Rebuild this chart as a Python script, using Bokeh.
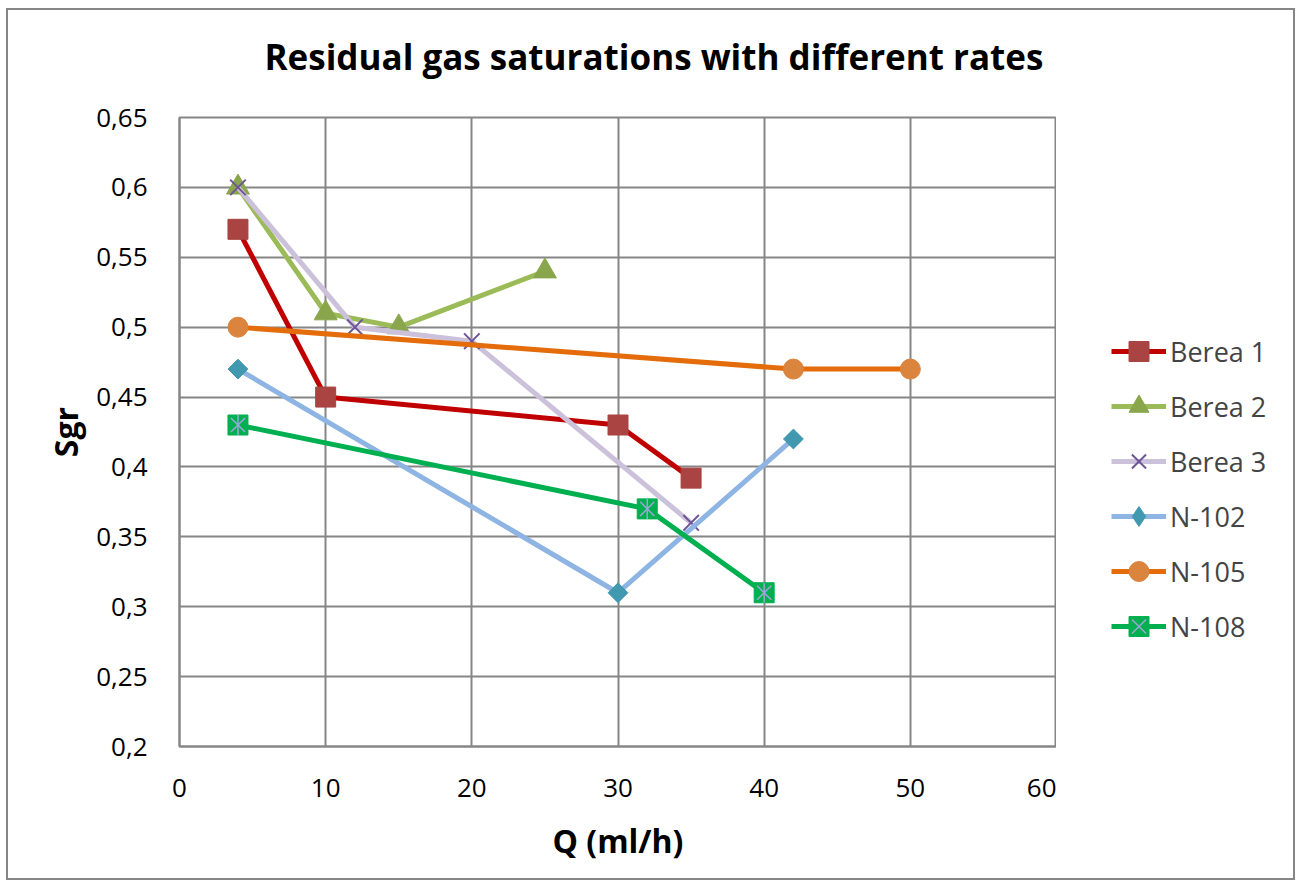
from bokeh.plotting import figure
from bokeh.layouts import row
from bokeh.models import Range1d, FixedTicker, Legend, LegendItem, Title
from bokeh.embed import file_html
from bokeh.resources import INLINE
import math

# Flow rate Q (ml/h) and residual gas saturation Sgr for each core
berea1_q = [4, 10, 30, 35]
berea1_s = [0.57, 0.45, 0.43, 0.392]
berea2_q = [4, 10, 15, 25]
berea2_s = [0.60, 0.51, 0.50, 0.54]
berea3_q = [4, 12, 20, 35]
berea3_s = [0.60, 0.50, 0.49, 0.36]
n102_q = [4, 30, 42]
n102_s = [0.47, 0.31, 0.42]
n105_q = [4, 42, 50]
n105_s = [0.50, 0.47, 0.47]
n108_q = [4, 32, 40]
n108_s = [0.43, 0.37, 0.31]

x_ticks = [0, 10, 20, 30, 40, 50, 60]
y_ticks = [0.2, 0.25, 0.3, 0.35, 0.4, 0.45, 0.5, 0.55, 0.6, 0.65]
y_tick_labels = ["0,2", "0,25", "0,3", "0,35", "0,4", "0,45", "0,5", "0,55", "0,6", "0,65"]

FONT = "Open Sans"
GRID = "#868686"

# (label, q, Sgr, line colour, marker, marker colour, marker size)
SERIES = [
    ("Berea 1", berea1_q, berea1_s, "#C00000", "square", "#A94442", 20),
    ("Berea 2", berea2_q, berea2_s, "#9BBB59", "triangle", "#8AA64D", 23),
    ("Berea 3", berea3_q, berea3_s, "#CCC1DA", "x", "#6F5596", 22),
    ("N-102", n102_q, n102_s, "#8EB4E3", "diamond", "#4198AF", 20),
    ("N-105", n105_q, n105_s, "#E46C0A", "circle", "#DB843D", 20),
    ("N-108", n108_q, n108_s, "#00B050", "square", "#00B050", 20),
]
STAR = "#9BA7D6"

# ---- main chart -------------------------------------------------------
p = figure(width=1048, height=868, output_backend="svg", toolbar_location=None,
           x_range=Range1d(0, 60), y_range=Range1d(0.2, 0.65),
           min_border_left=171, min_border_right=0,
           min_border_top=107, min_border_bottom=132)
p.background_fill_color = "white"
p.border_fill_color = "white"
p.outline_line_color = GRID
p.outline_line_width = 2

for ax in (p.xaxis[0], p.yaxis[0]):
    ax.axis_line_color = GRID
    ax.axis_line_width = 2
    ax.major_tick_line_color = None
    ax.minor_tick_line_color = None
    ax.major_label_text_font = FONT
    ax.major_label_text_font_size = "26px"
    ax.major_label_text_color = "black"
    ax.axis_label_text_font = FONT
    ax.axis_label_text_font_style = "bold"
    ax.axis_label_text_font_size = "32px"
    ax.axis_label_text_color = "black"

p.xaxis.ticker = FixedTicker(ticks=x_ticks)
p.yaxis.ticker = FixedTicker(ticks=y_ticks)
p.yaxis.major_label_overrides = {t: l for t, l in zip(y_ticks, y_tick_labels)}
p.xaxis.axis_label = "Q (ml/h)"
p.yaxis.axis_label = "Sgr"
p.xaxis.major_label_standoff = 26
p.yaxis.major_label_standoff = 26
p.xaxis.axis_label_standoff = 19
p.yaxis.axis_label_standoff = 6

p.xgrid.grid_line_color = GRID
p.ygrid.grid_line_color = GRID
p.xgrid.grid_line_width = 2
p.ygrid.grid_line_width = 2

for label, q, s, lc, marker, mc, ms in SERIES:
    p.line(q, s, line_color=lc, line_width=5)
    if marker == "x":
        p.scatter(q, s, marker="x", size=ms, line_color=mc, line_width=2)
    elif marker == "diamond":
        # diamonds drawn as squares turned by 45 degrees
        p.scatter(q, s, marker="square", size=14, angle=math.pi / 4,
                  fill_color=mc, line_color=mc)
    else:
        p.scatter(q, s, marker=marker, size=ms, fill_color=mc, line_color=mc)
    if label == "N-108":
        p.scatter(q, s, marker="x", size=ms, line_color=STAR, line_width=1.5)
        p.scatter(q, s, marker="dash", size=ms, angle=math.pi / 2,
                  line_color=STAR, line_width=1.5)

p.add_layout(Title(text="Residual gas saturations with different rates",
                   align="left", offset=85, standoff=0,
                   padding=dict(left=0, right=0, top=0, bottom=38),
                   text_font=FONT, text_font_style="bold",
                   text_font_size="35px", text_color="black"), "above")

# ---- legend panel -----------------------------------------------------
k = figure(width=237, height=868, output_backend="svg", toolbar_location=None,
           x_range=Range1d(0, 60), y_range=Range1d(0.2, 0.65),
           x_axis_type=None, y_axis_type=None,
           min_border_left=0, min_border_right=0,
           min_border_top=0, min_border_bottom=0)
k.outline_line_color = None
k.xgrid.visible = False
k.ygrid.visible = False
k.border_fill_color = "white"

items = []
for label, q, s, lc, marker, mc, ms in SERIES:
    rs = [k.line(q, s, line_color=lc, line_width=5, visible=False)]
    if marker == "x":
        rs.append(k.scatter(q, s, marker="x", line_color=mc, line_width=2,
                            visible=False))
    else:
        rs.append(k.scatter(q, s, marker=marker, fill_color=mc, line_color=mc,
                            visible=False))
    if label == "N-108":
        rs.append(k.scatter(q, s, marker="x", line_color=STAR, line_width=1.5,
                            visible=False))
    items.append(LegendItem(label=label, renderers=rs))

legend = Legend(items=items, location=(55, 95), orientation="vertical",
                glyph_width=55, glyph_height=50, label_height=50, spacing=5,
                padding=0, margin=0, label_standoff=4,
                label_text_font=FONT, label_text_font_size="27px",
                inactive_fill_alpha=0, click_policy="none",
                border_line_color=None, background_fill_alpha=0)
k.add_layout(legend, "center")

page = row(p, k, margin=(8, 0, 0, 6),
           styles={"border": "2px solid #868686", "background": "white"})

open("out.html", "w").write(file_html(page, INLINE))
